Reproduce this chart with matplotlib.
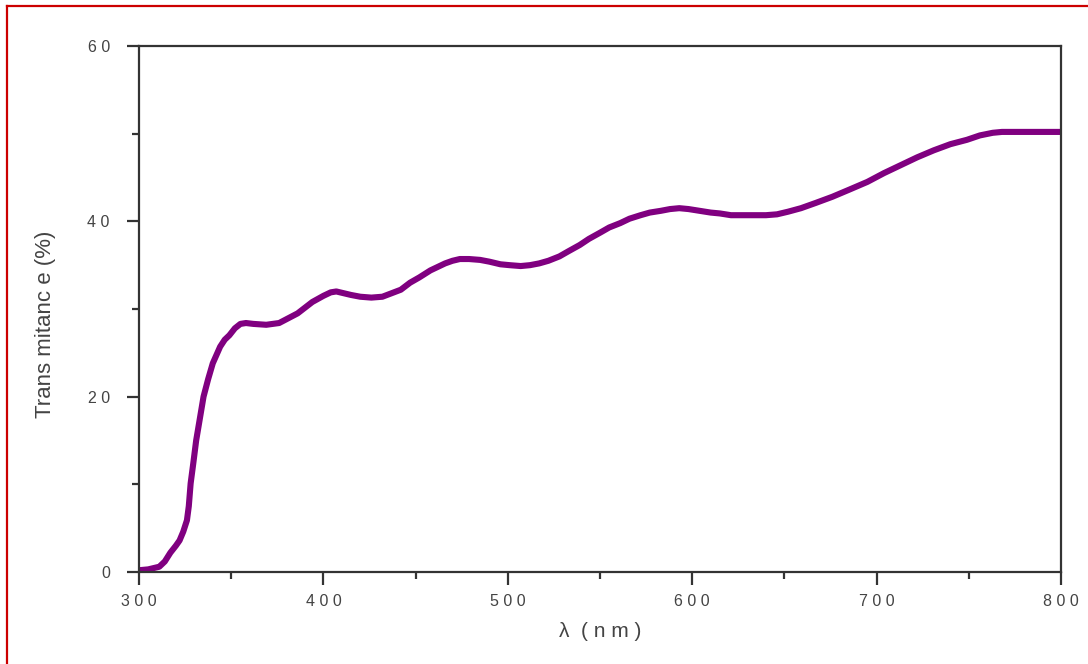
import numpy as np
import matplotlib.pyplot as plt
from matplotlib.lines import Line2D
from matplotlib.ticker import MultipleLocator

# wavelength (nm) and transmittance (%)
wavelength = [300, 305, 311, 314, 317, 320, 322, 324, 326, 327, 328, 329.5,
              331, 333, 335, 337.5, 340, 344, 346.5, 349, 352, 355, 358, 362,
              369, 376, 386, 394, 400, 404, 407, 411, 415, 420, 426, 432, 437,
              442, 447, 452, 458, 466, 470, 474, 479, 485, 490, 496, 501, 507,
              512, 517, 522, 528, 533, 539, 544, 550, 555, 561, 566, 572, 577,
              583, 588, 593, 598, 604, 610, 615, 621, 628, 635, 640, 646, 652,
              659, 667, 676, 685, 695, 704, 713, 722, 731, 740, 749, 756, 763,
              768, 772, 785, 800]
transmittance = [0.2, 0.3, 0.6, 1.2, 2.2, 3.0, 3.6, 4.6, 5.9, 7.5, 10.1, 12.5,
                 15.0, 17.5, 20.0, 22.0, 23.8, 25.7, 26.5, 27.0, 27.8, 28.3,
                 28.4, 28.3, 28.2, 28.4, 29.5, 30.8, 31.5, 31.9, 32.0, 31.8,
                 31.6, 31.4, 31.3, 31.4, 31.8, 32.2, 33.0, 33.6, 34.4, 35.2,
                 35.5, 35.7, 35.7, 35.6, 35.4, 35.1, 35.0, 34.9, 35.0, 35.2,
                 35.5, 36.0, 36.6, 37.3, 38.0, 38.7, 39.3, 39.8, 40.3, 40.7,
                 41.0, 41.2, 41.4, 41.5, 41.4, 41.2, 41.0, 40.9, 40.7, 40.7,
                 40.7, 40.7, 40.8, 41.1, 41.5, 42.1, 42.8, 43.6, 44.5, 45.5,
                 46.4, 47.3, 48.1, 48.8, 49.3, 49.8, 50.1, 50.2, 50.2, 50.2,
                 50.2]

x_ticks = [300, 400, 500, 600, 700, 800]
y_ticks = [0, 20, 40, 60]


def spaced(v):
    # tick labels in the original are letter-spaced
    return " ".join(str(v))


plt.rcParams["font.family"] = ["Liberation Sans", "DejaVu Sans"]

fig = plt.figure(figsize=(10.88, 6.64), dpi=100)
ax = fig.add_axes([139 / 1088, 1 - 572 / 664, 922 / 1088, 526 / 664])

ax.plot(wavelength, transmittance, color="#800080", lw=4.4,
        solid_capstyle="butt", solid_joinstyle="round")

ax.set_xlim(300, 800)
ax.set_ylim(0, 60)
ax.set_xticks(x_ticks)
ax.set_xticklabels([spaced(v) for v in x_ticks])
ax.set_yticks(y_ticks)
ax.set_yticklabels([spaced(v) for v in y_ticks])
ax.xaxis.set_minor_locator(MultipleLocator(50))
ax.yaxis.set_minor_locator(MultipleLocator(10))

for s in ax.spines.values():
    s.set_linewidth(1.6)
    s.set_color("#333333")

ax.tick_params(which="major", direction="out", length=9, width=1.6,
               color="#333333", labelsize=11.5, labelcolor="#444444")
ax.tick_params(which="minor", direction="out", length=5, width=1.6,
               color="#333333")
ax.tick_params(axis="x", which="major", pad=7)
ax.tick_params(axis="y", which="major", pad=12)

ax.set_xlabel("λ  ( n m )", fontsize=15, color="#444444", labelpad=9)
ax.set_ylabel("Trans mitanc e (%)", fontsize=16, color="#444444")
ax.yaxis.set_label_coords(-0.09, 0.47)

# red frame along top and left edges
fig.add_artist(Line2D([7 / 1088, 7 / 1088], [0, 1 - 6 / 664],
                      transform=fig.transFigure, color="#cc0000", lw=1.6))
fig.add_artist(Line2D([7 / 1088, 1], [1 - 6 / 664, 1 - 6 / 664],
                      transform=fig.transFigure, color="#cc0000", lw=1.6))

fig.savefig("out.png", dpi=100)
